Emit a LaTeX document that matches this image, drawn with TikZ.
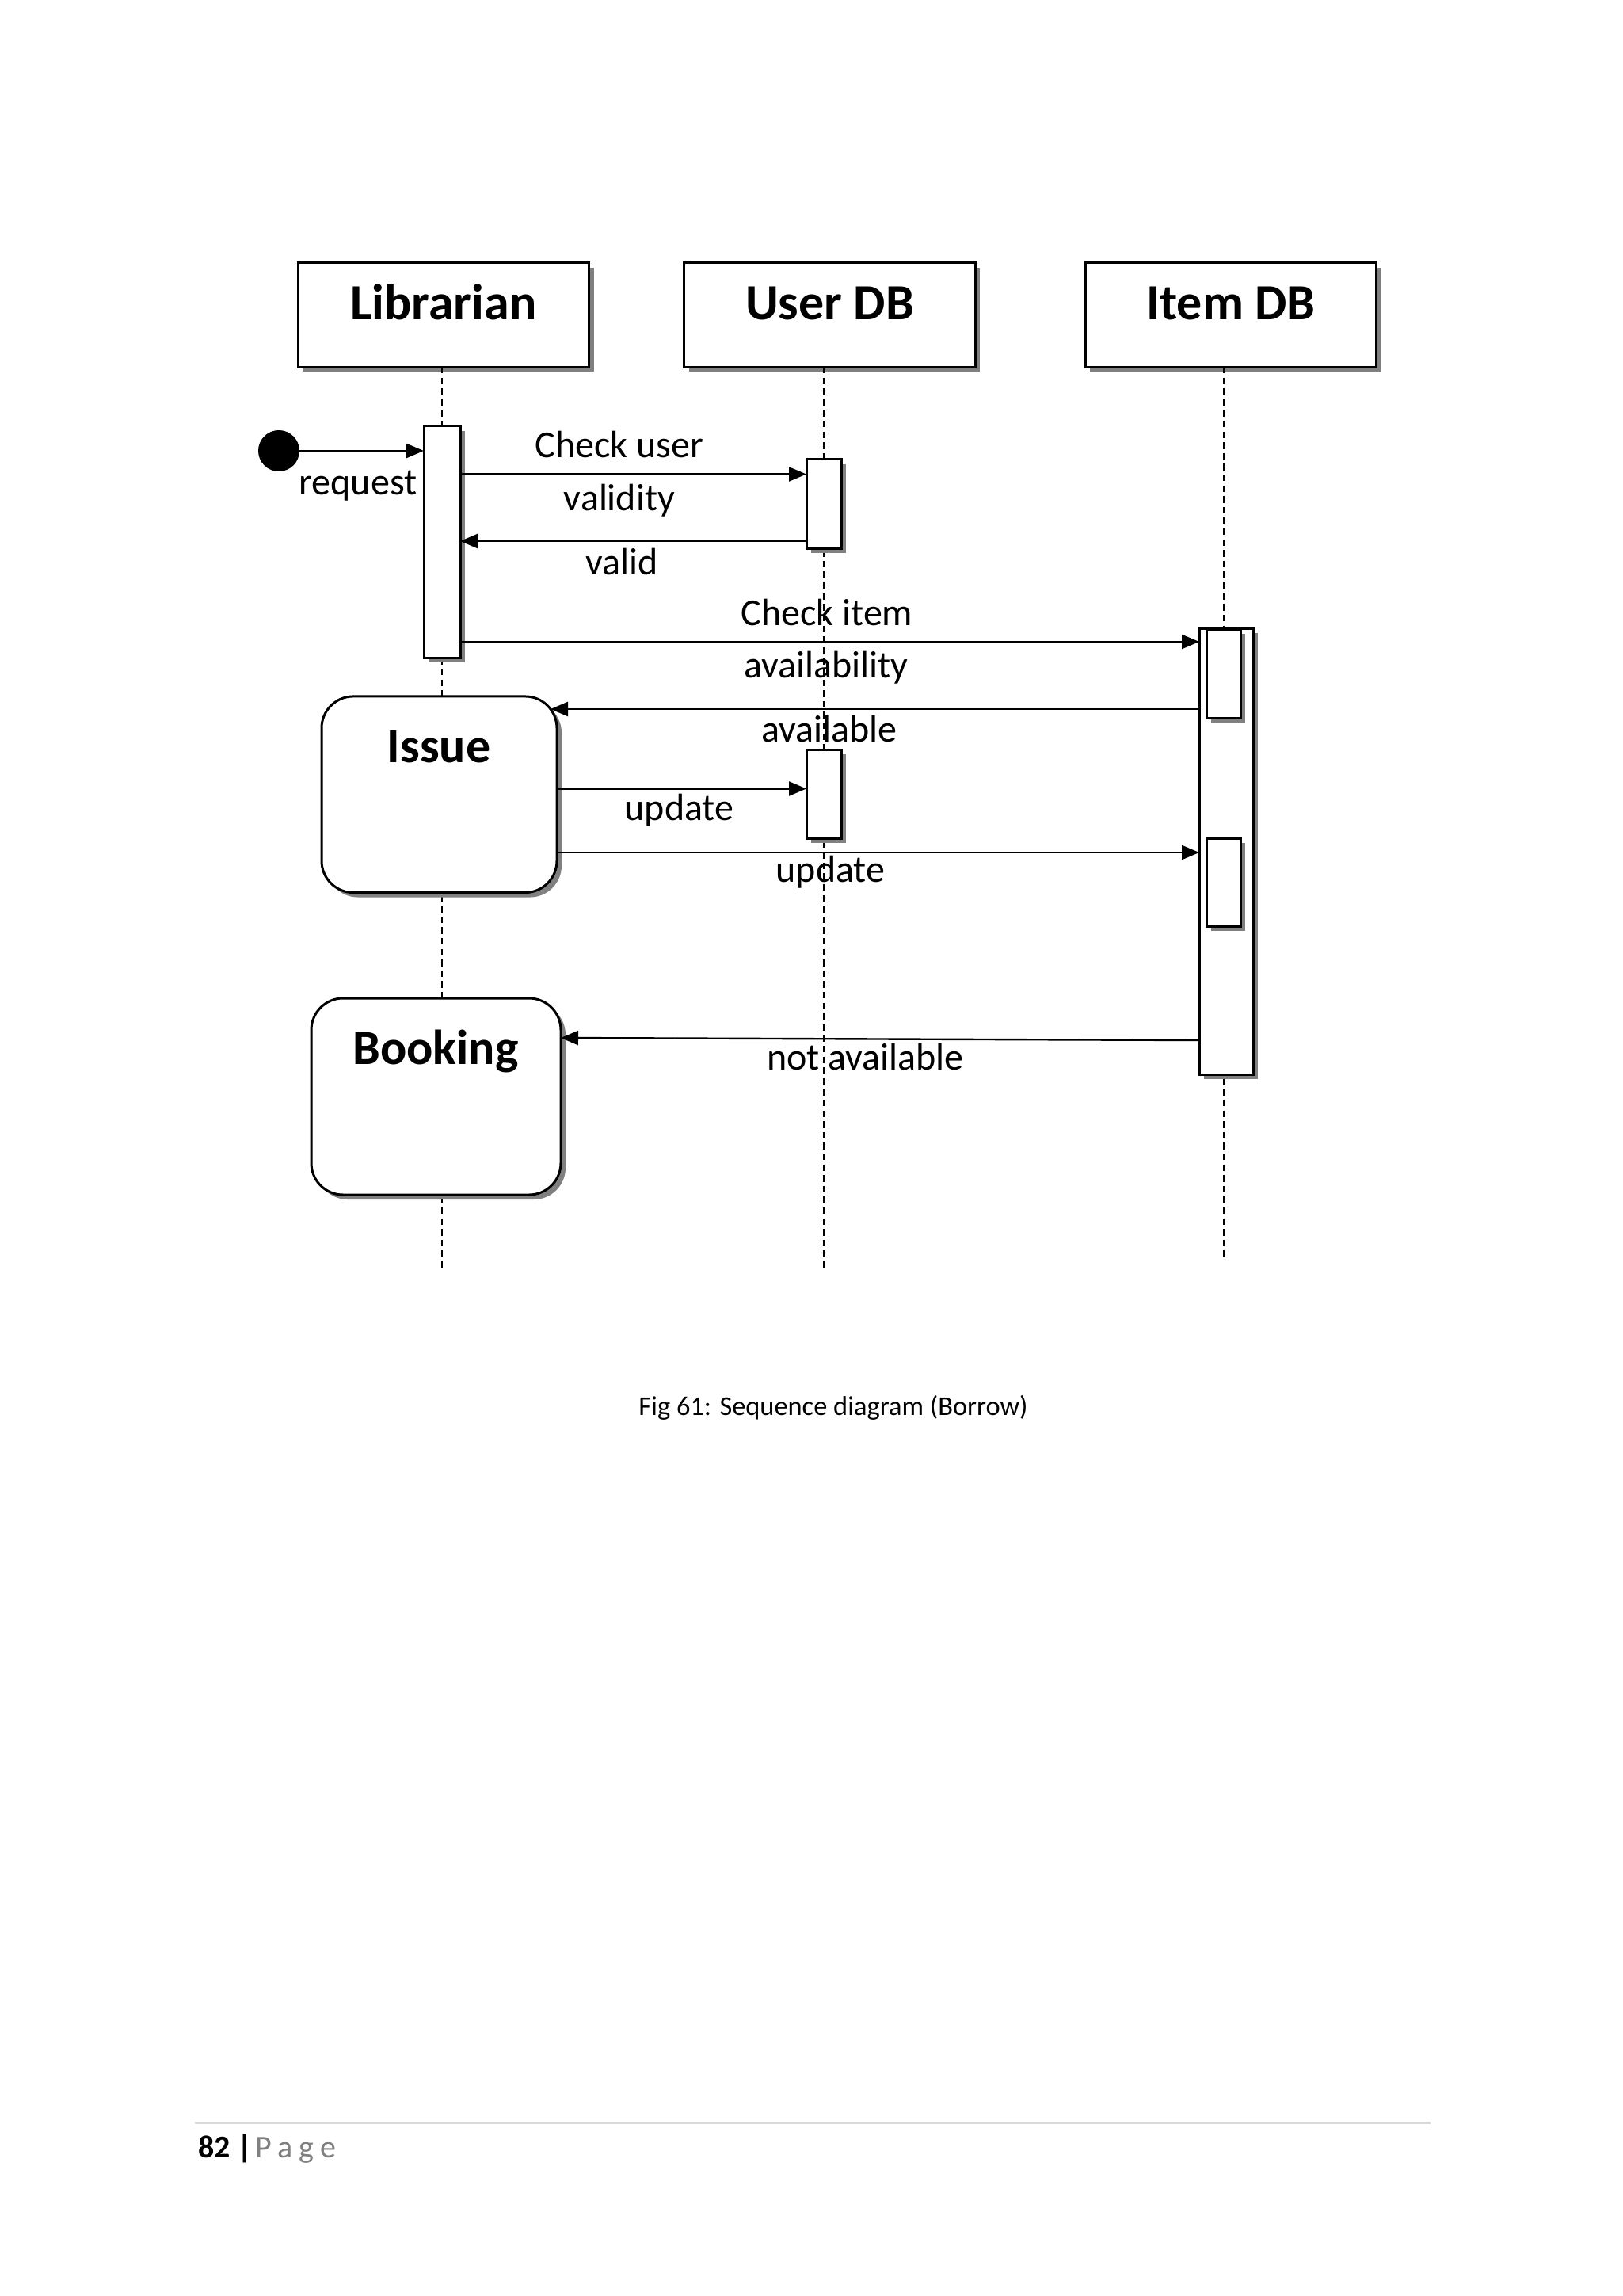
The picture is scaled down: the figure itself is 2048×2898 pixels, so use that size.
\documentclass[tikz,border=0pt]{standalone}
\usepackage{fontspec}
\setmainfont{Carlito}
\usetikzlibrary{arrows.meta,shadows}
\begin{document}
\begin{tikzpicture}[x=0.25pt,y=-0.25pt,
 every node/.style={inner sep=0pt, outer sep=0pt},
 box/.style={draw=black, fill=white, line width=0.75pt,
   drop shadow={shadow xshift=1.5pt, shadow yshift=-1.5pt, fill=black!50, opacity=1}},
 actor/.style={box, minimum width=91.9pt, minimum height=32.8pt},
 statebox/.style={box, rounded corners=10pt},
 lifeline/.style={line width=0.4pt, dash pattern=on 2.1pt off 1.3pt},
 msg/.style={line width=0.6pt, -{Triangle[length=5.5pt,width=4.5pt]}},
 lbl/.style={font=\fontsize{12}{14}\selectfont, anchor=base},
 title/.style={font=\bfseries\fontsize{16}{19}\selectfont, anchor=base},
 bigtitle/.style={font=\bfseries\fontsize{15.5}{18}\selectfont, anchor=base},
]
\useasboundingbox[fill=white] (0,0) rectangle (2048,2898);

% lifeline ends
\coordinate (libend) at (558,1600);
\coordinate (udbend) at (1040,1600);
\coordinate (idbend) at (1545,1590);

% actors
\node[actor] (lib) at (560,397.5) {};
\node[actor] (udb) at (1047.5,397.5) {};
\node[actor] (idb) at (1554,397.5) {};
\node[title] at (560,404) {Librarian};
\node[title] at (1047.5,404) {User DB};
\node[title] at (1554,404) {Item DB};

% lifelines
\draw[lifeline] (lib.south -| libend) -- (libend);
\draw[lifeline] (udb.south -| udbend) -- (udbend);
\draw[lifeline] (idb.south -| idbend) -- (idbend);

% activations
\node[box, minimum width=11.5pt, minimum height=73pt] (lact) at (558,684) {};
\node[box, minimum width=11pt, minimum height=28pt] (uact1) at (1040,636) {};
\node[box, minimum width=11pt, minimum height=28pt] (uact2) at (1040,1002) {};
\node[box, minimum width=17pt, minimum height=140.75pt] (iact) at (1548,1074.5) {};
\node[box, minimum width=10.75pt, minimum height=28pt] (iact1) at (1544.5,850) {};
\node[box, minimum width=10.75pt, minimum height=27.75pt] (iact2) at (1544.5,1113.5) {};

% states
\node[statebox, minimum width=74.25pt, minimum height=61.9pt] (issue) at (554.5,1002.75) {};
\node[bigtitle] at (554,962) {Issue};
\node[statebox, minimum width=78.75pt, minimum height=62pt] (booking) at (550.5,1384) {};
\node[bigtitle] at (550,1343) {Booking};

% start
\node[circle, fill=black, minimum size=13pt] (start) at (352,569) {};

% message levels
\coordinate (y1) at (0,598.5);
\coordinate (y2) at (0,683);
\coordinate (y3) at (0,810);
\coordinate (y4) at (0,895);
\coordinate (y5) at (0,995.5);
\coordinate (y6) at (0,1076);
\coordinate (y7) at (0,1313);
\coordinate (y8) at (0,1310);

\draw[msg] (start) -- (lact.west |- start);
\draw[msg] (lact.east |- y1) -- (uact1.west |- y1);
\draw[msg] (uact1.west |- y2) -- (lact.east |- y2);
\draw[msg] (lact.east |- y3) -- (iact.west |- y3);
\draw[msg] (iact.west |- y4) -- ([xshift=-2pt]issue.east |- y4);
\draw[msg] (issue.east |- y5) -- (uact2.west |- y5);
\draw[msg] (issue.east |- y6) -- (iact.west |- y6);
\draw[msg] (iact.west |- y7) -- (booking.east |- y8);

% labels
\node[lbl] at (452,624.5) {request};
\node[lbl] at (782,577.5) {Check user};
\node[lbl] at (782,644.5) {validity};
\node[lbl] at (785,725.5) {valid};
\node[lbl] at (1044,789) {Check item};
\node[lbl] at (1043,855) {availability};
\node[lbl] at (1047,936.5) {available};
\node[lbl] at (857.5,1035.5) {update};
\node[lbl] at (1048.5,1113.5) {update};
\node[lbl] at (1092.5,1350) {not available};

% caption
\node[font=\fontsize{8.6}{10}\selectfont, anchor=base] (cap) at (1052,1786) {Fig 61: Sequence diagram (Borrow)};

% footer
\coordinate (fl) at (246,2679);
\coordinate (fr) at (1806,2679);
\draw[line width=0.75pt, black!15] (fl) -- (fr);
\node[anchor=base west, font=\fontsize{10}{12}\selectfont] (pnum) at (250,2723) {\textbf{82 |}};
\node[anchor=base west, font=\fontsize{10}{12}\selectfont, text=black!50] (pword) at (322,2723) {P\kern2pt a\kern2pt g\kern2pt e};
\end{tikzpicture}
\end{document}
